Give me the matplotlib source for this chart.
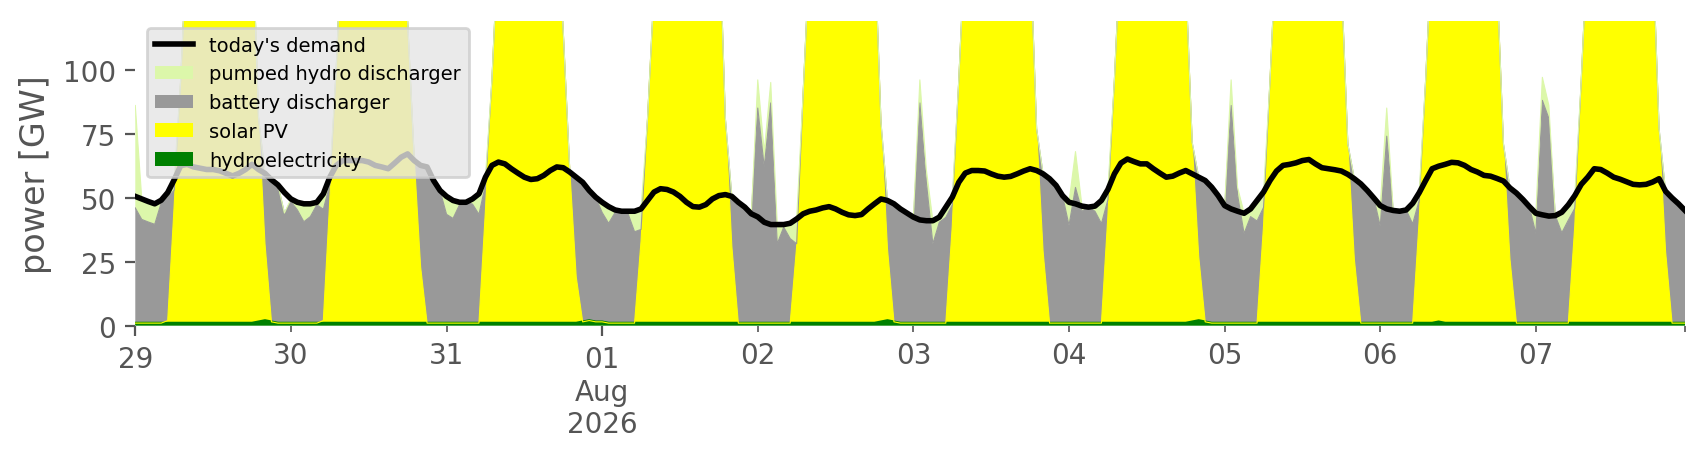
import pandas as pd
import matplotlib
matplotlib.use('Agg')
import matplotlib.pyplot as plt
import matplotlib.dates as mdates
from matplotlib.lines import Line2D
from matplotlib.patches import Patch

# hourly series, 29 Jul 00:00 .. 07 Aug 23:00 (one row per day)
times = pd.date_range('2026-07-29 00:00', periods=240, freq='h')

demand = [
    50.5, 49.5, 48.5, 47.6, 49.0, 52.0, 57.0, 62.5, 63.0, 62.0, 61.5, 61.0, 61.0, 60.5, 59.5, 58.5, 59.5, 61.0, 63.0, 61.0, 59.5, 57.0, 55.0, 52.0,
    49.5, 48.2, 47.6, 47.6, 48.2, 51.5, 58.0, 62.6, 64.5, 64.5, 64.5, 64.5, 63.9, 62.6, 62.0, 61.3, 63.5, 65.8, 67.1, 64.5, 62.6, 62.0, 56.7, 52.8,
    50.5, 48.9, 48.2, 48.2, 49.5, 51.5, 58.0, 62.6, 63.9, 63.2, 61.3, 59.6, 58.0, 57.1, 57.4, 58.7, 60.6, 62.0, 61.7, 60.0, 58.0, 56.0, 52.8, 50.2,
    48.2, 46.5, 45.2, 44.7, 44.7, 44.7, 45.6, 48.9, 52.2, 53.5, 53.2, 52.2, 50.5, 48.2, 46.5, 46.3, 47.3, 49.5, 50.8, 51.2, 50.5, 48.2, 46.3, 43.7,
    42.5, 40.4, 39.5, 39.5, 39.5, 40.0, 41.7, 43.7, 44.7, 45.2, 46.0, 46.5, 45.6, 44.3, 43.3, 43.0, 43.4, 45.6, 47.6, 49.5, 48.9, 47.6, 45.6, 44.0,
    42.4, 41.3, 41.0, 41.0, 42.4, 46.3, 50.2, 56.0, 59.6, 60.6, 60.6, 60.4, 59.3, 58.4, 58.0, 58.3, 59.3, 60.4, 61.3, 60.6, 59.3, 57.4, 54.8, 50.8,
    48.2, 47.6, 46.7, 46.3, 46.7, 48.9, 53.2, 59.3, 63.5, 65.1, 64.1, 63.2, 63.2, 61.3, 59.6, 58.0, 58.4, 59.6, 60.6, 59.3, 58.0, 56.7, 54.1, 50.8,
    46.9, 45.6, 44.7, 43.9, 45.6, 48.9, 52.2, 56.7, 60.4, 62.6, 63.0, 63.6, 64.5, 64.9, 63.2, 61.7, 61.3, 60.9, 60.4, 59.1, 57.4, 55.4, 52.8, 49.9,
    46.9, 45.6, 45.0, 44.7, 45.2, 47.8, 51.9, 56.7, 61.3, 62.3, 63.0, 63.8, 63.6, 62.6, 61.0, 60.0, 58.7, 58.4, 57.5, 56.5, 53.8, 51.8, 49.3, 46.5,
    43.9, 43.3, 42.8, 43.0, 44.3, 47.2, 50.8, 55.2, 58.0, 61.3, 61.0, 59.6, 58.0, 57.2, 56.2, 55.2, 55.0, 55.2, 56.1, 57.4, 52.5, 49.9, 47.6, 45.0,
]

hydro = [
    1.0, 1.0, 1.0, 1.0, 1.0, 1.0, 1.0, 1.0, 1.0, 1.0, 1.0, 1.0, 1.0, 1.0, 1.0, 1.0, 1.0, 1.0, 1.0, 1.5, 2.0, 1.5, 1.0, 1.0,
    1.0, 1.0, 1.0, 1.0, 1.0, 1.0, 1.0, 1.0, 1.0, 1.0, 1.0, 1.0, 1.0, 1.0, 1.0, 1.0, 1.0, 1.0, 1.0, 1.0, 1.0, 1.0, 1.0, 1.0,
    1.0, 1.0, 1.0, 1.0, 1.0, 1.0, 1.0, 1.0, 1.0, 1.0, 1.0, 1.0, 1.0, 1.0, 1.0, 1.0, 1.0, 1.0, 1.0, 1.0, 1.0, 1.5, 2.0, 1.5,
    1.5, 1.0, 1.0, 1.0, 1.0, 1.0, 1.0, 1.0, 1.0, 1.0, 1.0, 1.0, 1.0, 1.0, 1.0, 1.0, 1.0, 1.0, 1.0, 1.0, 1.0, 1.0, 1.0, 1.0,
    1.0, 1.0, 1.0, 1.0, 1.0, 1.0, 1.0, 1.0, 1.0, 1.0, 1.0, 1.0, 1.0, 1.0, 1.0, 1.0, 1.0, 1.0, 1.0, 1.5, 2.0, 1.5, 1.0, 1.0,
    1.0, 1.0, 1.0, 1.0, 1.0, 1.0, 1.0, 1.0, 1.0, 1.0, 1.0, 1.0, 1.0, 1.0, 1.0, 1.0, 1.0, 1.0, 1.0, 1.0, 1.0, 1.0, 1.0, 1.0,
    1.0, 1.0, 1.0, 1.0, 1.0, 1.0, 1.0, 1.0, 1.0, 1.0, 1.0, 1.0, 1.0, 1.0, 1.0, 1.0, 1.0, 1.0, 1.0, 1.5, 2.0, 1.5, 1.0, 1.0,
    1.0, 1.0, 1.0, 1.0, 1.0, 1.0, 1.0, 1.0, 1.0, 1.0, 1.0, 1.0, 1.0, 1.0, 1.0, 1.0, 1.0, 1.0, 1.0, 1.0, 1.0, 1.0, 1.0, 1.0,
    1.0, 1.0, 1.0, 1.0, 1.0, 1.0, 1.0, 1.0, 1.0, 1.5, 1.0, 1.0, 1.0, 1.0, 1.0, 1.0, 1.0, 1.0, 1.0, 1.0, 1.0, 1.0, 1.0, 1.0,
    1.0, 1.0, 1.0, 1.0, 1.0, 1.0, 1.0, 1.0, 1.0, 1.0, 1.0, 1.0, 1.0, 1.0, 1.0, 1.0, 1.0, 1.0, 1.0, 1.0, 1.0, 1.0, 1.0, 1.0,
]

solar = [
    0, 0, 0, 0, 0, 1, 46, 95, 150, 210, 260, 285, 295, 285, 260, 230, 205, 200, 160, 80, 30, 0, 0, 0,
    0, 0, 0, 0, 0, 1, 48, 100, 160, 220, 265, 290, 295, 285, 260, 225, 190, 170, 118, 65, 22, 0, 0, 0,
    0, 0, 0, 0, 0, 0, 44, 95, 150, 210, 255, 285, 290, 280, 255, 220, 190, 165, 114, 60, 18, 0, 0, 0,
    0, 0, 0, 0, 0, 0, 32, 80, 130, 200, 250, 280, 290, 280, 255, 220, 195, 170, 160, 80, 30, 0, 0, 0,
    0, 0, 0, 0, 0, 0, 30, 90, 145, 205, 255, 285, 290, 280, 255, 220, 195, 170, 150, 78, 28, 0, 0, 0,
    0, 0, 0, 0, 0, 0, 38, 95, 150, 210, 260, 285, 295, 285, 260, 225, 195, 170, 148, 76, 28, 0, 0, 0,
    0, 0, 0, 0, 0, 0, 42, 95, 150, 210, 260, 285, 295, 285, 260, 225, 195, 170, 135, 70, 25, 0, 0, 0,
    0, 0, 0, 0, 0, 0, 38, 95, 150, 210, 260, 285, 295, 285, 260, 225, 195, 170, 135, 70, 25, 0, 0, 0,
    0, 0, 0, 0, 0, 0, 40, 95, 150, 210, 260, 285, 295, 285, 260, 225, 195, 170, 135, 70, 25, 0, 0, 0,
    0, 0, 0, 0, 0, 0, 38, 95, 150, 210, 260, 285, 295, 285, 260, 225, 195, 170, 148, 76, 28, 0, 0, 0,
]

battery = [
    45, 40.5, 39.5, 38.6, 47, 48, 6, 0, 0, 0, 0, 0, 0, 0, 0, 0, 0, 0, 0, 0, 27.5, 55.5, 54, 43,
    47.5, 44.2, 39.6, 41.6, 46.2, 43.5, 6, 0, 0, 0, 0, 0, 0, 0, 0, 0, 0, 0, 0, 0, 39.6, 61, 55.7, 51.8,
    42.5, 40.9, 46.2, 47.2, 46.5, 42.5, 10, 0, 0, 0, 0, 0, 0, 0, 0, 0, 0, 0, 0, 0, 39, 54.5, 50.8, 48.7,
    42.7, 39, 43.2, 43.7, 42.7, 35.7, 4.6, 0, 0, 0, 0, 0, 0, 0, 0, 0, 0, 0, 0, 0, 19.5, 47.2, 45.3, 42.7,
    84, 61, 86, 31, 37.5, 33, 1, 0, 0, 0, 0, 0, 0, 0, 0, 0, 0, 0, 0, 0, 18.9, 46.1, 44.6, 43,
    40.4, 86, 55, 31, 39.4, 41.3, 8.2, 0, 0, 0, 0, 0, 0, 0, 0, 0, 0, 0, 0, 0, 30.3, 56.4, 53.8, 49.8,
    38.2, 53, 43.7, 45.3, 43.7, 38.9, 6.2, 0, 0, 0, 0, 0, 0, 0, 0, 0, 0, 0, 0, 0, 31, 55.2, 53.1, 49.8,
    44.9, 85, 50, 35, 41.6, 39.9, 7.2, 0, 0, 0, 0, 0, 0, 0, 0, 0, 0, 0, 0, 0, 31.4, 54.4, 51.8, 48.9,
    37.9, 73, 44, 43.7, 44.2, 38.8, 7.9, 0, 0, 0, 0, 0, 0, 0, 0, 0, 0, 0, 0, 0, 27.8, 50.8, 48.3, 45.5,
    35, 87, 80, 42, 35.3, 40.2, 6.8, 0, 0, 0, 0, 0, 0, 0, 0, 0, 0, 0, 0, 0, 23.5, 48.9, 46.6, 44,
]

pumped = [
    40, 8, 8, 8, 1, 2, 4, 0, 0, 0, 0, 0, 0, 0, 0, 0, 0, 0, 0, 0, 0, 0, 0, 0,
    1, 3, 7, 5, 1, 6, 3, 0, 0, 0, 0, 0, 0, 0, 0, 0, 0, 0, 0, 0, 0, 0, 0, 0,
    7, 7, 1, 0, 2, 8, 3, 0, 0, 0, 0, 0, 0, 0, 0, 0, 0, 0, 0, 0, 0, 0, 0, 0,
    4, 6.5, 1, 0, 1, 8, 8, 0, 0, 0, 0, 0, 0, 0, 0, 0, 0, 0, 0, 0, 0, 0, 0, 0,
    11, 6, 8, 8, 1, 6, 10, 0, 0, 0, 0, 0, 0, 0, 0, 0, 0, 0, 0, 0, 0, 0, 0, 0,
    1, 9, 5, 9, 2, 4, 3, 0, 0, 0, 0, 0, 0, 0, 0, 0, 0, 0, 0, 0, 0, 0, 0, 0,
    9, 14, 2, 0, 2, 9, 4, 0, 0, 0, 0, 0, 0, 0, 0, 0, 0, 0, 0, 0, 0, 0, 0, 0,
    1, 10, 3, 8, 3, 8, 6, 0, 0, 0, 0, 0, 0, 0, 0, 0, 0, 0, 0, 0, 0, 0, 0, 0,
    8, 11, 0, 0, 0, 8, 3, 0, 0, 0, 0, 0, 0, 0, 0, 0, 0, 0, 0, 0, 0, 0, 0, 0,
    8, 9, 5, 0, 8, 6, 5, 0, 0, 0, 0, 0, 0, 0, 0, 0, 0, 0, 0, 0, 0, 0, 0, 0,
]

major_days = ['2026-07-29 00:00', '2026-08-01 00:00']
major_labels = ['29', '01\nAug\n2026']
minor_days = ['2026-07-30 00:00', '2026-07-31 00:00', '2026-08-02 00:00', '2026-08-03 00:00',
              '2026-08-04 00:00', '2026-08-05 00:00', '2026-08-06 00:00', '2026-08-07 00:00',
              '2026-08-07 23:00']
minor_labels = ['30', '31', '02', '03', '04', '05', '06', '07', '']

names = ['hydroelectricity', 'solar PV', 'battery discharger', 'pumped hydro discharger']
colors = ['#008000', '#ffff00', '#999999', '#dcf7aa']
grey = '#555555'

fig, ax = plt.subplots(figsize=(8.53, 2.3), dpi=200)
fig.subplots_adjust(left=0.0793, right=0.9877, top=0.9522, bottom=0.2898)

polys = ax.stackplot(times, hydro, solar, battery, pumped, colors=colors, linewidth=0)
# thin outline at the top of each stacked layer, like a pandas area plot
level = pd.Series(0.0, index=times)
for series, c, w in zip([hydro, solar, battery, pumped], colors, [1.0, 0.4, 0.4, 0.4]):
    level = level + pd.Series(series, index=times)
    ax.plot(times, level, color=c, lw=w)
ax.plot(times, demand, color='black', lw=2.0)

ax.set_xlim(times[0], times[-1])
ax.set_ylim(0, 119)
ax.set_yticks([0, 25, 50, 75, 100])

ax.xaxis.set_major_locator(plt.FixedLocator(mdates.date2num(pd.to_datetime(major_days, format='%Y-%m-%d %H:%M'))))
ax.xaxis.set_major_formatter(plt.FixedFormatter(major_labels))
ax.xaxis.set_minor_locator(plt.FixedLocator(mdates.date2num(pd.to_datetime(minor_days, format='%Y-%m-%d %H:%M'))))
ax.xaxis.set_minor_formatter(plt.FixedFormatter(minor_labels))

ax.tick_params(which='both', colors=grey, labelsize=10)
for s in ax.spines.values():
    s.set_visible(False)
ax.set_ylabel('power [GW]', color=grey, fontsize=12)

handles = [Line2D([], [], color='black', lw=2.0, label="today's demand")]
for n, c in zip(names[::-1], colors[::-1]):
    handles.append(Patch(facecolor=c, label=n))
ax.legend(handles=handles, loc='upper left', bbox_to_anchor=(0.0074, 0.977),
          borderaxespad=0, fontsize=7, facecolor='#E5E5E5', framealpha=0.8,
          edgecolor='#cccccc')

fig.savefig('out.png', dpi=200)
